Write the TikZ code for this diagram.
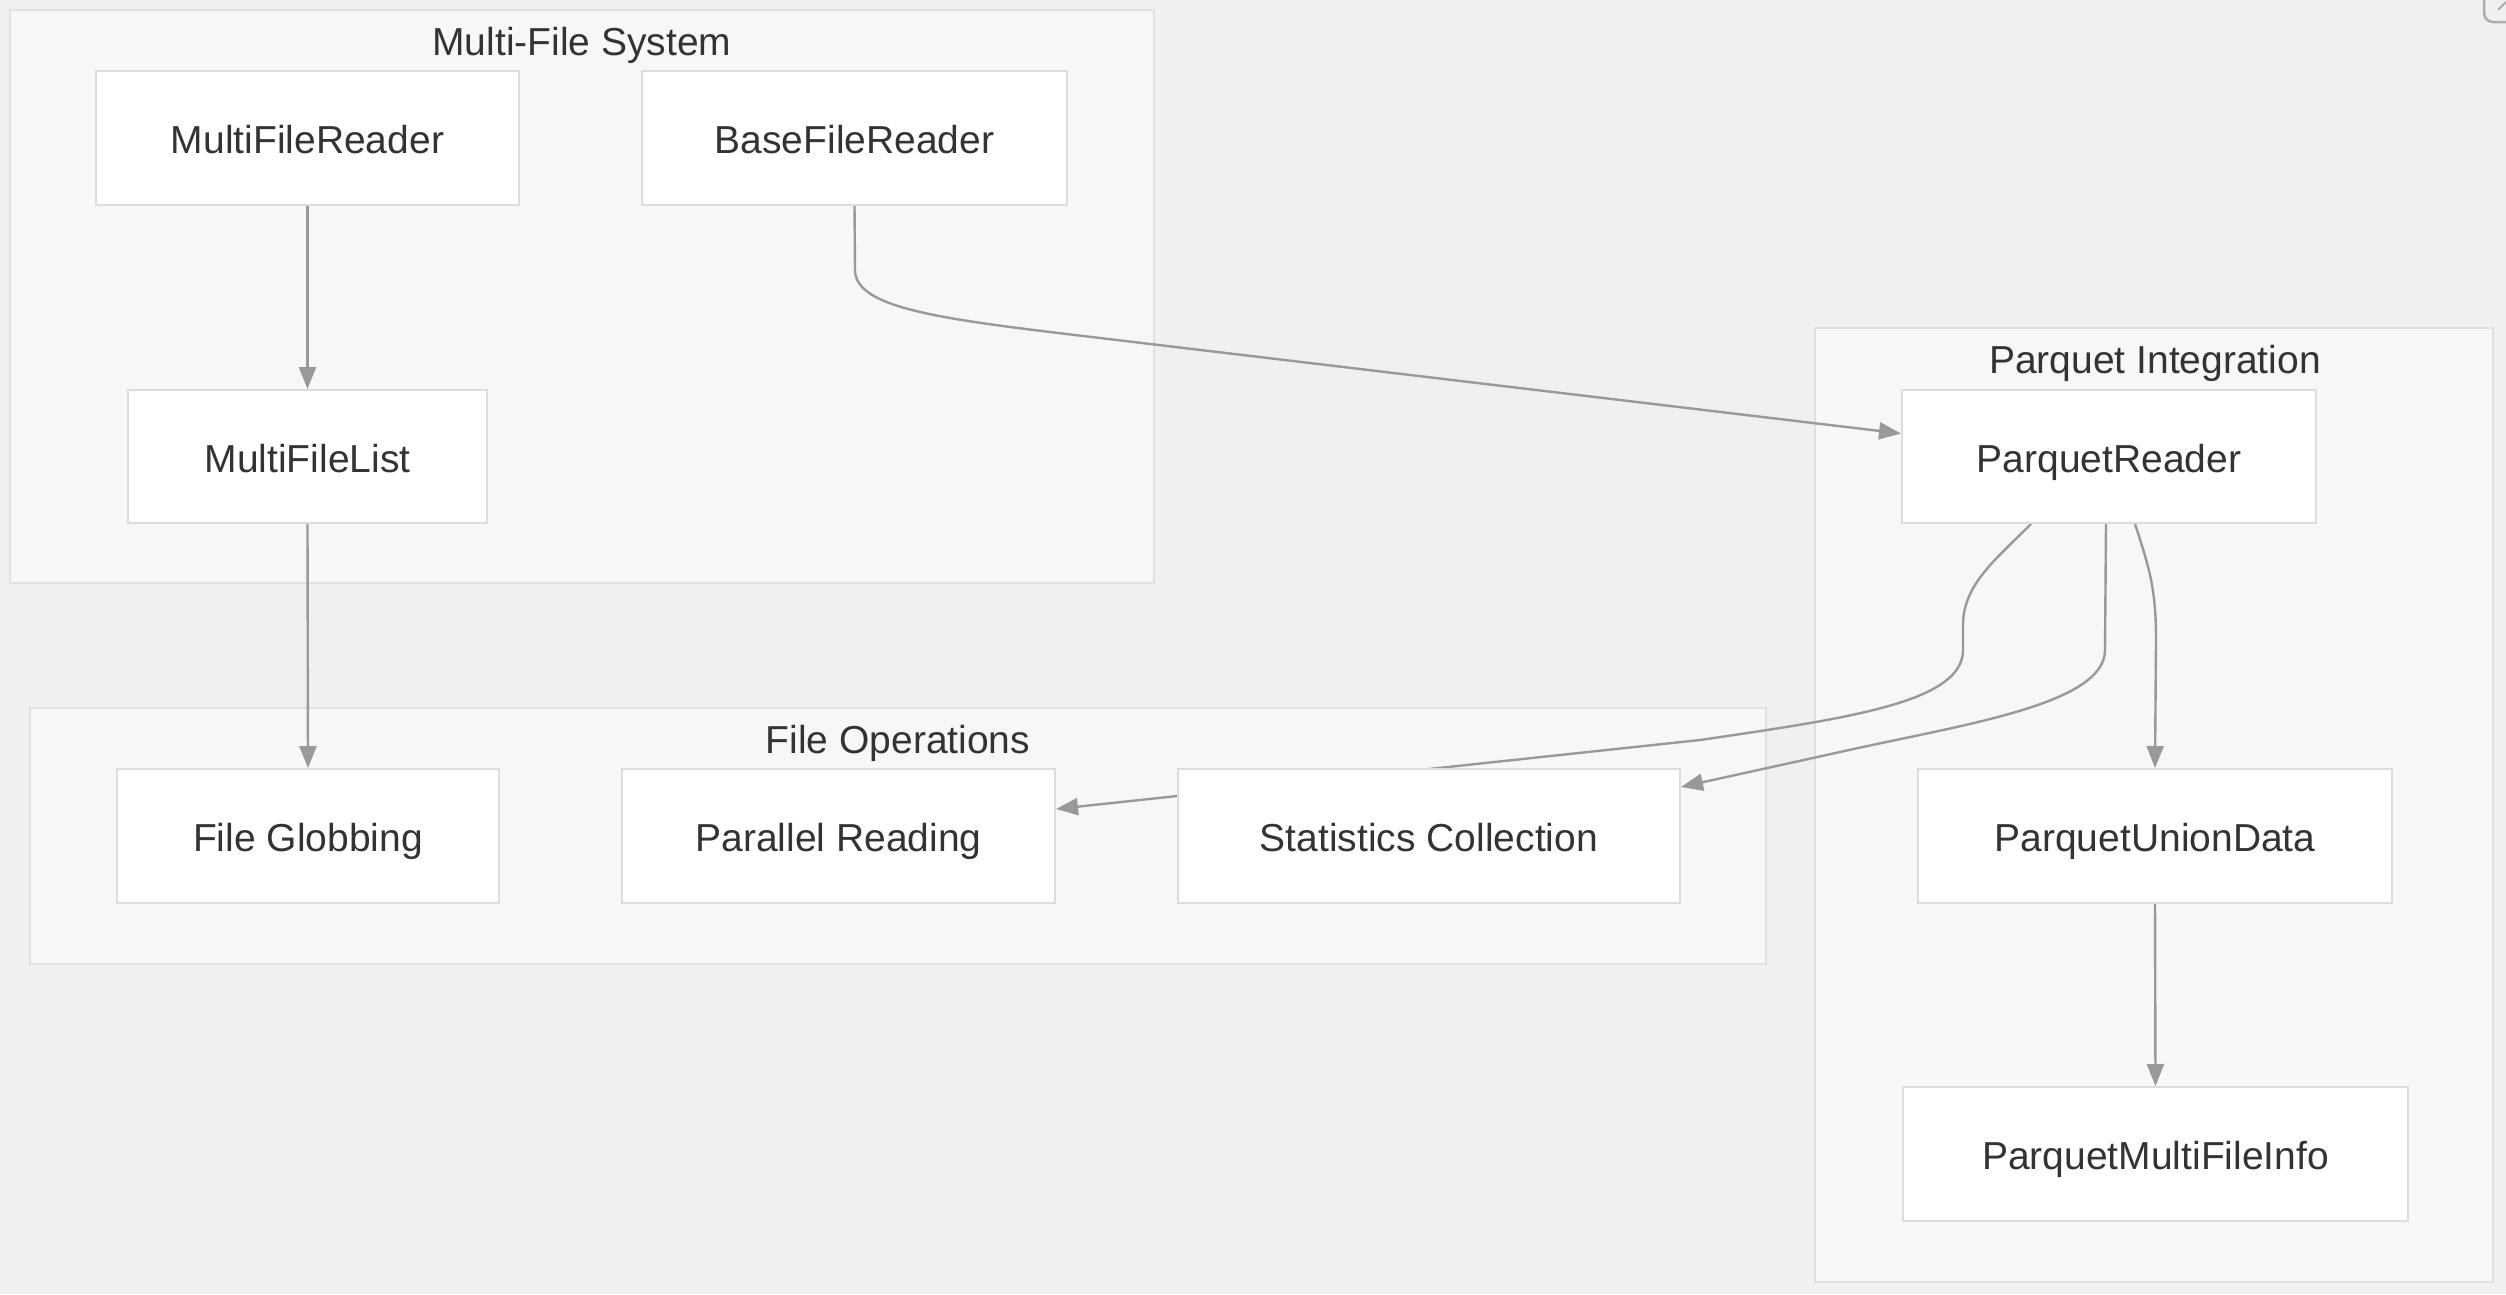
\documentclass[tikz,border=0pt]{standalone}
\usepackage{fontspec}
\setmainfont{Liberation Sans}
\usetikzlibrary{arrows.meta,calc}
\pgfdeclarelayer{bg}
\pgfdeclarelayer{edges}
\pgfsetlayers{bg,edges,main}
\definecolor{pagebg}{RGB}{241,240,238}
\definecolor{clfill}{RGB}{247,247,247}
\definecolor{clline}{RGB}{224,224,224}
\definecolor{ndline}{RGB}{221,221,221}
\definecolor{txt}{RGB}{51,51,51}
\definecolor{edgec}{RGB}{153,153,153}
\tikzset{
  box/.style={draw=ndline, line width=2pt, fill=white, rectangle, minimum height=134pt, inner sep=0pt,
    text=txt, font=\fontsize{39}{46}\selectfont, text height=39pt, text depth=8pt},
  cluster/.style={draw=clline, line width=2pt, fill=clfill},
  ctitle/.style={text=txt, font=\fontsize{39}{46}\selectfont, inner sep=0pt, text height=39pt, text depth=8pt},
  conn/.style={draw=edgec, line width=2.4pt, -{Triangle[length=22pt,width=17pt]}}
}
\begin{document}
\begin{tikzpicture}[x=1pt,y=-1pt]
\useasboundingbox (0,0) rectangle (2506,1294);
\begin{pgfonlayer}{bg}
\fill[pagebg] (0,0) rectangle (2506,1294);
\draw[cluster] (10,10) rectangle (1154,583);
\draw[cluster] (30,708) rectangle (1766,964);
\draw[cluster] (1815,328) rectangle (2493,1282);
\draw[draw=edgec!80, line width=2.5pt, rounded corners=9pt] (2484,-30) rectangle (2540,22);
\draw[draw=edgec!80, line width=2pt] (2498,10) -- (2510,-2);
\end{pgfonlayer}
\node[ctitle] (tmfs) at (582,40) {Multi-File System};
\node[ctitle] (tfo) at (898,738) {File Operations};
\node[ctitle] (tpi) at (2155,358) {Parquet Integration};

\node[box, minimum width=423pt] (mfr) at (307.5,137.5) {MultiFileReader};
\node[box, minimum width=425pt] (bfr) at (854.5,137.5) {BaseFileReader};
\node[box, minimum width=359pt, minimum height=133pt] (mfl) at (307.5,456.5) {MultiFileList};
\node[box, minimum width=382pt] (fg) at (308,836) {File Globbing};
\node[box, minimum width=433pt] (pr) at (838.5,836) {Parallel Reading};
\node[box, minimum width=502pt] (sc) at (1429,836) {Statistics Collection};
\node[box, minimum width=414pt, minimum height=133pt] (pqr) at (2109,456.5) {ParquetReader};
\node[box, minimum width=474pt] (pud) at (2155,836) {ParquetUnionData};
\node[box, minimum width=505pt] (pmi) at (2155.5,1154) {ParquetMultiFileInfo};

\begin{pgfonlayer}{edges}
\draw[conn] (mfr.south) -- (mfl.north);
\draw[conn] (mfl.south) -- (fg.north);
\draw[conn] (bfr.south) -- (855,270) .. controls (855,310) and (950,320) .. (1100,338) -- ([yshift=23pt]pqr.west);
\draw[conn] ([xshift=-78pt]pqr.south) .. controls (1995,560) and (1963,585) .. (1963,625) -- (1963,650)
  .. controls (1963,702) and (1850,718) .. (1700,740) -- ([yshift=27pt]pr.east);
\draw[conn] ([xshift=-3pt]pqr.south) -- (2105,650) .. controls (2105,705) and (1960,725) .. (1840,752) -- ([yshift=-19pt]sc.north east);
\draw[conn] ([xshift=26pt]pqr.south) .. controls (2150,570) and (2156,590) .. (2156,640) -- (pud.north);
\draw[conn] (pud.south) -- (pmi.north);
\end{pgfonlayer}
\end{tikzpicture}
\end{document}
